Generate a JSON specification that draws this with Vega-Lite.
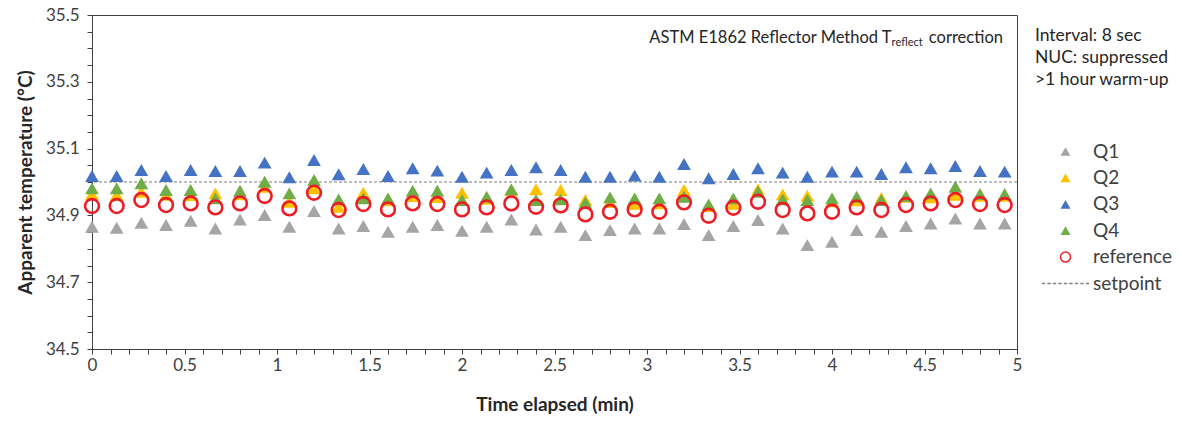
{
  "$schema": "https://vega.github.io/schema/vega-lite/v6.json",
  "width": 925,
  "height": 334,
  "autosize": {"type": "none"},
  "padding": {"left": 92, "top": 15, "right": 165, "bottom": 72},
  "background": "white",
  "config": {
    "font": "Lato",
    "view": {"stroke": "#404040", "strokeWidth": 1},
    "axis": {
      "grid": false,
      "domainColor": "#404040",
      "tickColor": "#404040",
      "labelColor": "#404040",
      "labelFontSize": 17,
      "titleFontSize": 19,
      "titleFontWeight": "bold",
      "titleColor": "#262626",
      "labelOverlap": false,
      "labelFlush": false
    }
  },
  "datasets": {
    "readings": [
      {"t": 0, "Q1": 34.866, "Q2": 34.964, "Q3": 35.018, "Q4": 34.981, "reference": 34.928},
      {"t": 0.1333, "Q1": 34.863, "Q2": 34.962, "Q3": 35.018, "Q4": 34.981, "reference": 34.928},
      {"t": 0.2667, "Q1": 34.878, "Q2": 34.971, "Q3": 35.036, "Q4": 34.996, "reference": 34.946},
      {"t": 0.4, "Q1": 34.871, "Q2": 34.962, "Q3": 35.018, "Q4": 34.976, "reference": 34.931},
      {"t": 0.5333, "Q1": 34.884, "Q2": 34.961, "Q3": 35.036, "Q4": 34.976, "reference": 34.936},
      {"t": 0.6667, "Q1": 34.861, "Q2": 34.966, "Q3": 35.033, "Q4": 34.951, "reference": 34.924},
      {"t": 0.8, "Q1": 34.888, "Q2": 34.963, "Q3": 35.033, "Q4": 34.974, "reference": 34.936},
      {"t": 0.9333, "Q1": 34.901, "Q2": 34.986, "Q3": 35.058, "Q4": 35.001, "reference": 34.958},
      {"t": 1.0667, "Q1": 34.866, "Q2": 34.941, "Q3": 35.014, "Q4": 34.966, "reference": 34.921},
      {"t": 1.2, "Q1": 34.913, "Q2": 34.981, "Q3": 35.066, "Q4": 35.006, "reference": 34.968},
      {"t": 1.3333, "Q1": 34.861, "Q2": 34.926, "Q3": 35.023, "Q4": 34.948, "reference": 34.916},
      {"t": 1.4667, "Q1": 34.868, "Q2": 34.968, "Q3": 35.039, "Q4": 34.951, "reference": 34.934},
      {"t": 1.6, "Q1": 34.851, "Q2": 34.945, "Q3": 35.018, "Q4": 34.951, "reference": 34.918},
      {"t": 1.7333, "Q1": 34.866, "Q2": 34.958, "Q3": 35.041, "Q4": 34.974, "reference": 34.936},
      {"t": 1.8667, "Q1": 34.871, "Q2": 34.955, "Q3": 35.034, "Q4": 34.974, "reference": 34.934},
      {"t": 2, "Q1": 34.854, "Q2": 34.968, "Q3": 35.016, "Q4": 34.946, "reference": 34.918},
      {"t": 2.1333, "Q1": 34.866, "Q2": 34.95, "Q3": 35.028, "Q4": 34.956, "reference": 34.924},
      {"t": 2.2667, "Q1": 34.888, "Q2": 34.976, "Q3": 35.036, "Q4": 34.978, "reference": 34.936},
      {"t": 2.4, "Q1": 34.858, "Q2": 34.978, "Q3": 35.044, "Q4": 34.946, "reference": 34.926},
      {"t": 2.5333, "Q1": 34.866, "Q2": 34.976, "Q3": 35.036, "Q4": 34.948, "reference": 34.93},
      {"t": 2.6667, "Q1": 34.841, "Q2": 34.946, "Q3": 35.016, "Q4": 34.938, "reference": 34.903},
      {"t": 2.8, "Q1": 34.856, "Q2": 34.94, "Q3": 35.016, "Q4": 34.954, "reference": 34.911},
      {"t": 2.9333, "Q1": 34.861, "Q2": 34.935, "Q3": 35.019, "Q4": 34.951, "reference": 34.918},
      {"t": 3.0667, "Q1": 34.861, "Q2": 34.936, "Q3": 35.016, "Q4": 34.951, "reference": 34.911},
      {"t": 3.2, "Q1": 34.874, "Q2": 34.976, "Q3": 35.054, "Q4": 34.956, "reference": 34.939},
      {"t": 3.3333, "Q1": 34.841, "Q2": 34.928, "Q3": 35.011, "Q4": 34.933, "reference": 34.899},
      {"t": 3.4667, "Q1": 34.868, "Q2": 34.935, "Q3": 35.024, "Q4": 34.951, "reference": 34.923},
      {"t": 3.6, "Q1": 34.886, "Q2": 34.978, "Q3": 35.041, "Q4": 34.971, "reference": 34.941},
      {"t": 3.7333, "Q1": 34.861, "Q2": 34.963, "Q3": 35.028, "Q4": 34.948, "reference": 34.916},
      {"t": 3.8667, "Q1": 34.811, "Q2": 34.959, "Q3": 35.016, "Q4": 34.946, "reference": 34.906},
      {"t": 4, "Q1": 34.821, "Q2": 34.942, "Q3": 35.031, "Q4": 34.951, "reference": 34.911},
      {"t": 4.1333, "Q1": 34.856, "Q2": 34.945, "Q3": 35.031, "Q4": 34.956, "reference": 34.924},
      {"t": 4.2667, "Q1": 34.851, "Q2": 34.952, "Q3": 35.024, "Q4": 34.946, "reference": 34.916},
      {"t": 4.4, "Q1": 34.868, "Q2": 34.956, "Q3": 35.044, "Q4": 34.958, "reference": 34.931},
      {"t": 4.5333, "Q1": 34.876, "Q2": 34.954, "Q3": 35.041, "Q4": 34.966, "reference": 34.936},
      {"t": 4.6667, "Q1": 34.891, "Q2": 34.962, "Q3": 35.048, "Q4": 34.986, "reference": 34.946},
      {"t": 4.8, "Q1": 34.876, "Q2": 34.959, "Q3": 35.033, "Q4": 34.964, "reference": 34.934},
      {"t": 4.9333, "Q1": 34.876, "Q2": 34.959, "Q3": 35.031, "Q4": 34.964, "reference": 34.931}
    ]
  },
  "layer": [
    {
      "data": {"values": [{}]},
      "mark": {"type": "rule", "stroke": "#7F7F7F", "strokeDash": [3, 2], "strokeWidth": 1},
      "encoding": {
        "y": {"datum": 35.0, "type": "quantitative"}
      }
    },
    {
      "data": {"name": "readings"},
      "transform": [
        {"fold": ["Q1", "Q2", "Q3", "Q4", "reference"], "as": ["series", "v"]}
      ],
      "mark": {"type": "point", "opacity": 1, "strokeWidth": 2.6},
      "encoding": {
        "x": {
          "field": "t",
          "type": "quantitative",
          "scale": {"domain": [0, 5], "nice": false, "zero": false},
          "axis": {
            "title": "Time elapsed (min)",
            "values": [0, 0.1, 0.2, 0.3, 0.4, 0.5, 0.6, 0.7, 0.8, 0.9, 1, 1.1, 1.2, 1.3, 1.4, 1.5, 1.6, 1.7, 1.8, 1.9, 2, 2.1, 2.2, 2.3, 2.4, 2.5, 2.6, 2.7, 2.8, 2.9, 3, 3.1, 3.2, 3.3, 3.4, 3.5, 3.6, 3.7, 3.8, 3.9, 4, 4.1, 4.2, 4.3, 4.4, 4.5, 4.6, 4.7, 4.8, 4.9, 5],
            "tickCount": 100,
            "labelExpr": "abs(datum.value * 2 - round(datum.value * 2)) < 0.001 ? format(datum.value, '~g') : ''",
            "tickSize": 5,
            "labelPadding": 3,
            "titlePadding": 22
          }
        },
        "y": {
          "field": "v",
          "type": "quantitative",
          "scale": {"domain": [34.5, 35.5], "nice": false, "zero": false},
          "axis": {
            "title": "Apparent temperature (°C)",
            "values": [34.5, 34.55, 34.6, 34.65, 34.7, 34.75, 34.8, 34.85, 34.9, 34.95, 35, 35.05, 35.1, 35.15, 35.2, 35.25, 35.3, 35.35, 35.4, 35.45, 35.5],
            "tickCount": 100,
            "labelExpr": "(abs(datum.value * 10 - round(datum.value * 10)) < 0.01 && round(datum.value * 10) % 2 == 1) ? format(datum.value, '.1f') : ''",
            "tickSize": 5,
            "labelPadding": 8,
            "titlePadding": 10
          }
        },
        "fill": {
          "field": "series",
          "type": "nominal",
          "scale": {
            "domain": ["Q1", "Q2", "Q3", "Q4", "reference", "setpoint"],
            "range": ["#A5A5A5", "#FFC000", "#4472C4", "#70AD47", "transparent", "transparent"]
          },
          "legend": {
            "title": null,
            "orient": "none",
            "legendX": 964,
            "legendY": 127,
            "labelFontSize": 19,
            "labelColor": "#404040",
            "symbolSize": 100,
            "labelOffset": 18,
            "rowPadding": 6.4,
            "encode": {
              "symbols": {
                "update": {
                  "strokeWidth": [
                    {"test": "datum.value === 'setpoint'", "value": 1},
                    {"value": 2.6}
                  ]
                }
              }
            }
          }
        },
        "stroke": {
          "field": "series",
          "type": "nominal",
          "scale": {
            "domain": ["Q1", "Q2", "Q3", "Q4", "reference", "setpoint"],
            "range": ["transparent", "transparent", "transparent", "transparent", "#EE1C25", "#7F7F7F"]
          }
        },
        "shape": {
          "field": "series",
          "type": "nominal",
          "scale": {
            "domain": ["Q1", "Q2", "Q3", "Q4", "reference", "setpoint"],
            "range": ["triangle-up", "triangle-up", "triangle-up", "triangle-up", "circle", "M-4.725,0L-4.075,0M-3.625,0L-2.975,0M-2.525,0L-1.875,0M-1.425,0L-0.775,0M-0.325,0L0.325,0M0.775,0L1.425,0M1.875,0L2.525,0M2.975,0L3.625,0M4.075,0L4.725,0"]
          }
        },
        "size": {
          "field": "series",
          "type": "ordinal",
          "scale": {
            "domain": ["Q1", "Q2", "Q3", "Q4", "reference"],
            "range": [190, 190, 190, 190, 175]
          },
          "legend": null
        }
      }
    },
    {
      "data": {"values": [{}]},
      "mark": {"type": "text", "text": "ASTM E1862 Reflector Method T", "fontSize": 16.5, "align": "right", "baseline": "middle", "color": "#262626"},
      "encoding": {
        "x": {"datum": 4.322, "type": "quantitative"},
        "y": {"datum": 35.431, "type": "quantitative"}
      }
    },
    {
      "data": {"values": [{}]},
      "mark": {"type": "text", "text": "reflect", "fontSize": 11, "align": "right", "baseline": "middle", "color": "#262626"},
      "encoding": {
        "x": {"datum": 4.49, "type": "quantitative"},
        "y": {"datum": 35.415, "type": "quantitative"}
      }
    },
    {
      "data": {"values": [{}]},
      "mark": {"type": "text", "text": "correction", "fontSize": 16.5, "align": "right", "baseline": "middle", "color": "#262626"},
      "encoding": {
        "x": {"datum": 4.924, "type": "quantitative"},
        "y": {"datum": 35.431, "type": "quantitative"}
      }
    },
    {
      "data": {"values": [{}]},
      "mark": {"type": "text", "text": ["Interval: 8 sec", "NUC: suppressed", ">1 hour warm-up"], "fontSize": 17.5, "lineHeight": 22, "align": "left", "baseline": "top", "color": "#262626"},
      "encoding": {
        "x": {"datum": 5.097, "type": "quantitative"},
        "y": {"datum": 35.465, "type": "quantitative"}
      }
    }
  ]
}
